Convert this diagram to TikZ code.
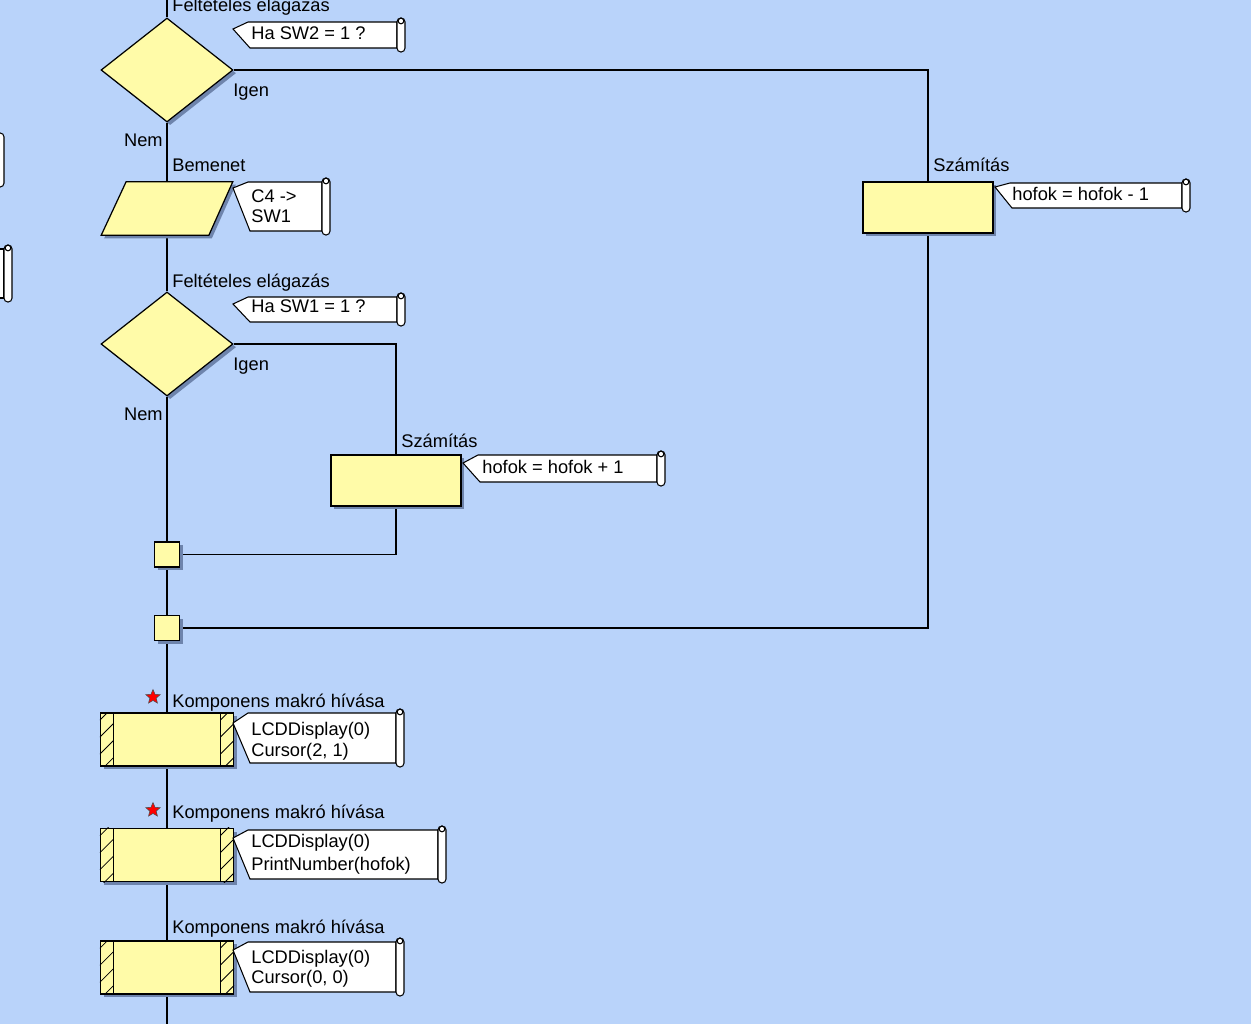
\documentclass[tikz,border=0pt]{standalone}
\usepackage{fontspec}
\setmainfont{Liberation Sans}
\usetikzlibrary{shapes.geometric,shadows,calc}
\definecolor{bgc}{RGB}{185,211,250}
\definecolor{yel}{RGB}{255,251,168}
\definecolor{shc}{RGB}{110,132,172}
\definecolor{lsh}{RGB}{135,156,196}
\pgfdeclarelayer{bglayer}
\pgfdeclarelayer{lines}
\pgfsetlayers{bglayer,lines,main}
\tikzset{
 pxgrid/.style={x=0.02cm,y=-0.02cm},
 txt/.style={font=\fontsize{10.4}{12}\selectfont, inner sep=0pt},
 lbl/.style={txt, anchor=base west},
 lblr/.style={txt, anchor=base east},
 shad/.style={drop shadow={shadow xshift=1.8pt, shadow yshift=-1.8pt, fill=shc, opacity=1}},
 decision/.style={diamond, draw=black, line width=0.7pt, fill=yel, shad, minimum width=2.64cm, minimum height=2.08cm, inner sep=0pt},
 calcbox/.style={rectangle, draw=black, line width=0.8pt, fill=yel, shad, minimum width=2.6cm, minimum height=1.02cm, inner sep=0pt},
 macrobox/.style={calcbox, minimum width=2.66cm, minimum height=1.06cm},
 junction/.style={calcbox, minimum width=0.5cm, minimum height=0.5cm},
 ghost/.style={rectangle, inner sep=0pt, minimum width=2.62cm, minimum height=1.06cm},
 conn/.style={draw=black, line width=1.1pt},
 connsh/.style={draw=lsh, line width=1.1pt},
 cmtshape/.style={draw=black, line width=0.6pt, fill=white},
 redstar/.style={star, star points=5, star point ratio=2.2, fill=red, draw=black!70, line width=0.3pt, minimum size=0.3cm, inner sep=0pt},
}
% comment: #1 point x, #2 point y, #3 top, #4 bottom, #5 right edge
\newcommand\cmt[5]{%
 \path[cmtshape] (#1,#2) -- ({#1+15},#3) -- (#5,#3) -- (#5,#4) -- ({#1+17},#4) -- cycle;
 \path[cmtshape, rounded corners=2.2pt] (#5,{#3-4}) rectangle ({#5+8},{#4+4});
 \path[cmtshape] ({#5+4},{#3-1}) circle[radius=1.6pt];
}
\newcommand\hatchsides[1]{%
 \draw[line width=0.6pt] ($(#1.north west)+(14,0)$) -- ($(#1.south west)+(14,0)$);
 \draw[line width=0.6pt] ($(#1.north east)+(-14,0)$) -- ($(#1.south east)+(-14,0)$);
 \begin{scope}
  \clip ($(#1.north west)$) rectangle ($(#1.south west)+(14,0)$);
  \foreach \k in {0,...,4} \draw[line width=0.5pt] ($(#1.north west)+(0,{8+17*\k})$) -- ++(14,-14);
 \end{scope}
 \begin{scope}
  \clip ($(#1.north east)+(-14,0)$) rectangle ($(#1.south east)$);
  \foreach \k in {0,...,4} \draw[line width=0.5pt] ($(#1.north east)+(-14,{8+17*\k})$) -- ++(14,-14);
 \end{scope}
}
\newcommand\links[1]{%
 \draw[#1] (top) -- (d1.north);
 \draw[#1] (d1.south) -- (in.north);
 \draw[#1] (in.south) -- (d2.north);
 \draw[#1] (d2.south) -- (j1.north);
 \draw[#1] (j1.south) -- (j2.north);
 \draw[#1] (j2.south) -- (m1.north);
 \draw[#1] (m1.south) -- (m2.north);
 \draw[#1] (m2.south) -- (m3.north);
 \draw[#1] (m3.south) -- (bot);
 \draw[#1] (d1.east) -| (calc2.north);
 \draw[#1] (calc2.south) |- (j2.east);
 \draw[#1] (d2.east) -| (calc1.north);
 \draw[#1] (calc1.south) |- (j1.east);
}
\begin{document}
\begin{tikzpicture}[pxgrid]
\begin{pgfonlayer}{bglayer}
\fill[bgc] (0,0) rectangle (1251,1024);
\end{pgfonlayer}
\useasboundingbox (0,0) rectangle (1251,1024);
\clip (0,0) rectangle (1251,1024);

% main nodes
\node[decision] (d1) at (167,70) {};
\node[ghost] (in) at (167,208.5) {};
\fill[shc] ($(in.north west)+(28,3)$) -- ($(in.north east)+(3,3)$) -- ($(in.south east)+(-21,3)$) -- ($(in.south west)+(3,3)$) -- cycle;
\filldraw[fill=yel, draw=black, line width=0.7pt] ($(in.north west)+(25,0)$) -- (in.north east) -- ($(in.south east)+(-24,0)$) -- (in.south west) -- cycle;
\node[decision] (d2) at (167,344) {};
\node[calcbox] (calc1) at (396,480.5) {};
\node[calcbox] (calc2) at (928,207.5) {};
\node[junction] (j1) at (167,554.5) {};
\node[junction] (j2) at (167,628) {};
\node[macrobox] (m1) at (167,739.5) {};
\hatchsides{m1}
\node[macrobox] (m2) at (167,855) {};
\hatchsides{m2}
\node[macrobox] (m3) at (167,967.5) {};
\hatchsides{m3}
\coordinate (top) at (167,-5);
\coordinate (bot) at (167,1030);

% connectors (shadow copy first, then the black line)
\begin{pgfonlayer}{lines}
\begin{scope}[shift={(2,2)}]
\links{connsh}
\end{scope}
\links{conn}
\end{pgfonlayer}

% comments
\cmt{233}{29}{22}{48}{397}
\cmt{233}{188}{182}{231}{322}
\cmt{233}{304}{297}{322}{397}
\cmt{463}{463}{455}{482}{657}
\cmt{995}{187}{183}{208}{1182}
\cmt{233}{723}{713}{763}{396}
\cmt{233}{838}{830}{879}{438}
\cmt{233}{950}{942}{992}{396}
% partial comments at the left edge
\path[cmtshape, rounded corners=2.2pt] (-4,133) rectangle (4,187);
\path[cmtshape] (-20,249) rectangle (4,298);
\path[cmtshape, rounded corners=2.2pt] (4,245) rectangle (12,302);
\path[cmtshape] (8,248) circle[radius=1.6pt];

% labels
\node[lbl] (l1) at (172,12) {Feltételes elágazás};
\node[lbl] (c1) at (251,40) {Ha SW2 = 1 ?};
\node[lbl] (i1) at (233,97) {Igen};
\node[lblr] (n1) at (163,147) {Nem};
\node[lbl] (l2) at (172,172) {Bemenet};
\node[lbl] (c2a) at (251,202) {C4 ->};
\node[lbl] (c2b) at (251,222) {SW1};
\node[lbl] (l3) at (172,287) {Feltételes elágazás};
\node[lbl] (c3) at (251,312) {Ha SW1 = 1 ?};
\node[lbl] (i2) at (233,370) {Igen};
\node[lblr] (n2) at (163,420) {Nem};
\node[lbl] (l4) at (401,447) {Számítás};
\node[lbl] (c4) at (482,473) {hofok = hofok + 1};
\node[lbl] (l5) at (933,172) {Számítás};
\node[lbl] (c5) at (1012,200) {hofok = hofok - 1};
\node[lbl] (l6) at (172,707) {Komponens makró hívása};
\node[lbl] (c6a) at (251,735) {LCDDisplay(0)};
\node[lbl] (c6b) at (251,756) {Cursor(2, 1)};
\node[lbl] (l7) at (172,818) {Komponens makró hívása};
\node[lbl] (c7a) at (251,847) {LCDDisplay(0)};
\node[lbl] (c7b) at (251,870) {PrintNumber(hofok)};
\node[lbl] (l8) at (172,933) {Komponens makró hívása};
\node[lbl] (c8a) at (251,963) {LCDDisplay(0)};
\node[lbl] (c8b) at (251,983) {Cursor(0, 0)};
\node[redstar] (s1) at (153,697) {};
\node[redstar] (s2) at (153,810) {};
\end{tikzpicture}
\end{document}
